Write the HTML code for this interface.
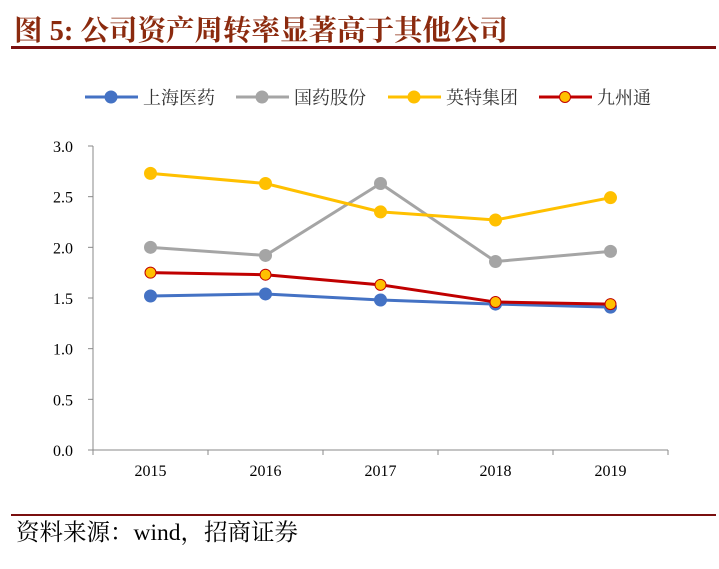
<!DOCTYPE html>
<html><head><meta charset="utf-8"><style>
body{margin:0;background:#fff;width:719px;height:564px;overflow:hidden}
svg text{font-family:"Liberation Serif","Noto Serif CJK SC",serif}
</style></head><body>
<svg width="719" height="564">
<text x="14" y="40" font-size="28.5" font-weight="bold" fill="#8b2a0e">图 5:  公司资产周转率显著高于其他公司</text>
<rect x="11" y="46" width="705" height="3" fill="#7a0f0f"/>
<g id="legend"></g>
<g id="axes"></g>
<g id="series"></g>
<rect x="11" y="514" width="705" height="2" fill="#7a0f0f"/>
<text x="16" y="540" font-size="23.5" fill="#000">资料来源：wind，招商证券</text>
</svg>
<script>
const categories=['2015','2016','2017','2018','2019'];
const seriesNames=['上海医药','国药股份','英特集团','九州通'];
const shanghai=[1.52,1.54,1.48,1.44,1.41];
const guoyao=[2.00,1.92,2.63,1.86,1.96];
const yingte=[2.73,2.63,2.35,2.27,2.49];
const jiuzhoutong=[1.75,1.73,1.63,1.46,1.44];
const yTicks=[0,0.5,1,1.5,2,2.5,3];
const NS='http://www.w3.org/2000/svg';
const x0=93,x1=668,yB=450,yT=146;
const xs=i=>x0+(x1-x0)/categories.length*(i+0.5);
const ys=v=>yB-(v/3)*(yB-yT);
function mk(tag,attrs,parent,txt){const e=document.createElementNS(NS,tag);for(const k in attrs)e.setAttribute(k,attrs[k]);if(txt!=null)e.textContent=txt;parent.appendChild(e);return e;}
const axes=document.getElementById('axes');
let e=mk('line',{x1:x0,y1:yT,x2:x0,y2:yB,stroke:'#888','stroke-width':1},axes);


e=mk('line',{x1:x0,y1:yB,x2:x1,y2:yB,stroke:'#888','stroke-width':1},axes);


yTicks.forEach(t=>{
 const tk=mk('line',{x1:x0-5,x2:x0,y1:ys(t),y2:ys(t),stroke:'#888'},axes);
 
 
 const l=mk('text',{x:x0-20,y:ys(t)+6,'font-size':16,'text-anchor':'end'},axes,t.toFixed(1));
 
 
});
for(let i=0;i<=categories.length;i++){
 const X=x0+(x1-x0)/categories.length*i;
 const tk=mk('line',{x1:X,x2:X,y1:yB,y2:yB+5,stroke:'#888'},axes);
 
 
}
categories.forEach((c,i)=>{
 const l=mk('text',{x:xs(i),y:476,'font-size':16,'text-anchor':'middle'},axes,c);
 
 
});
const styles=[
 {data:shanghai,line:'#4472c4',fill:'#4472c4',stroke:'#4472c4',r:6},
 {data:guoyao,line:'#a5a5a5',fill:'#a5a5a5',stroke:'#a5a5a5',r:6},
 {data:yingte,line:'#ffc000',fill:'#ffc000',stroke:'#ffc000',r:6},
 {data:jiuzhoutong,line:'#c00000',fill:'#ffc000',stroke:'#c00000',r:5.5}
];
const sg=document.getElementById('series');
styles.forEach((s,k)=>{
 const g=mk('g',{},sg);
 
 
 const p=mk('polyline',{points:s.data.map((v,i)=>xs(i)+','+ys(v)).join(' '),fill:'none',stroke:s.line,'stroke-width':3},g);
 
 
 s.data.forEach((v,i)=>{
  const c=mk('circle',{cx:xs(i),cy:ys(v),r:s.r,fill:s.fill,stroke:s.stroke,'stroke-width':1},g);
  
  
 });
});
const lg=document.getElementById('legend');
const lx=[85,236,388,539];
styles.forEach((s,k)=>{
 const g=mk('g',{},lg);
 
 
 mk('line',{x1:lx[k],x2:lx[k]+53,y1:97,y2:97,stroke:s.line,'stroke-width':3},g);
 mk('circle',{cx:lx[k]+26,cy:97,r:s.r,fill:s.fill,stroke:s.stroke},g);
 const t=mk('text',{x:lx[k]+58,y:104,'font-size':18,fill:'#333'},g,seriesNames[k]);
 
 
});
</script>
</body></html>
